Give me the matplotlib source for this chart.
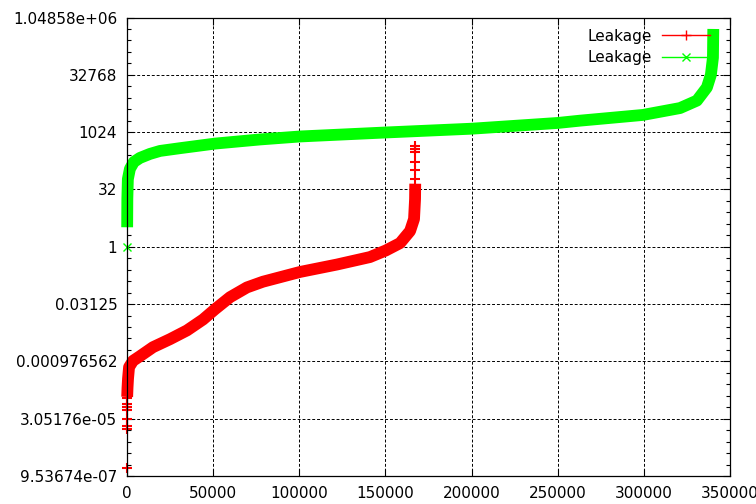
"""
plot.py — Leakage 排序曲线（纵轴 log2 刻度，gnuplot 风格）
"""

import numpy as np
import matplotlib
matplotlib.use("Agg")
import matplotlib.pyplot as plt
from matplotlib.lines import Line2D
from matplotlib.ticker import FixedLocator, FuncFormatter

# ---------------------------------------------------------------------------
# 1. 数据（从原图读取，纵轴以 log2 指数记录）
# ---------------------------------------------------------------------------
red_x = [100, 300, 600, 1200, 3500, 7500, 15100, 25000, 34800, 44100,
         51100, 59800, 69600, 78900, 100400, 121900, 141000, 150300, 158500,
         164300, 166600, 167200, 167300]
red_log2 = [-13.1, -12.3, -11.5, -10.5, -9.95, -9.55, -8.76, -8.06, -7.3, -6.35,
            -5.45, -4.4, -3.55, -3.05, -2.2, -1.55, -0.9, -0.32, 0.32,
            1.37, 2.42, 4.17, 5.5]

# 红色曲线两端零散的点
red_low_x = [0, 1, 2, 3, 4, 5, 6, 7]
red_low_log2 = [-19.3, -15.9, -15.6, -15.0, -14.2, -14.0, -13.7, -13.2]
red_top_x = [167300, 167302, 167304, 167306, 167308, 167310]
red_top_log2 = [5.9, 6.7, 7.4, 8.3, 8.5, 8.8]

green_x = [100, 200, 500, 1700, 4000, 7500, 13300, 19200, 30800, 51100,
           77200, 100400, 150300, 200200, 250000, 262900, 299500, 321000,
           330800, 336600, 338900, 340100, 340300]
green_log2 = [1.7, 4.2, 5.9, 6.8, 7.4, 7.75, 8.1, 8.36, 8.6, 9.0,
              9.36, 9.62, 9.97, 10.3, 10.8, 11.0, 11.5, 12.1,
              12.75, 13.9, 15.0, 16.5, 19.0]
green_low_x = [0]
green_low_log2 = [0.0]

x_ticks = [0, 50000, 100000, 150000, 200000, 250000, 300000, 350000]
y_major_exp = [-20, -15, -10, -5, 0, 5, 10, 15, 20]
legend_labels = ["Leakage", "Leakage"]

RED = "#ff0000"
GREEN = "#00ff00"

# ---------------------------------------------------------------------------
# 2. 绘图
# ---------------------------------------------------------------------------
plt.rcParams["font.family"] = ["DejaVu Sans"]
plt.rcParams["font.size"] = 11

fig = plt.figure(figsize=(7.56, 5.04), dpi=100)
ax = fig.add_axes([127 / 756, 28 / 504, 603 / 756, 458.5 / 504])

# 密集的标记点在原图中连成粗带，这里用粗线表示
ax.plot(red_x, 2.0 ** np.array(red_log2), color=RED, lw=8.5,
        solid_capstyle="butt", solid_joinstyle="round", clip_on=False, zorder=2)
ax.plot(red_low_x, 2.0 ** np.array(red_low_log2), ls="none", marker="+",
        ms=7, mew=1.5, color=RED, clip_on=False, zorder=2)
ax.plot(red_top_x, 2.0 ** np.array(red_top_log2), ls="none", marker="+",
        ms=7, mew=1.5, color=RED, clip_on=False, zorder=2)

ax.plot(green_x, 2.0 ** np.array(green_log2), color=GREEN, lw=8.5,
        solid_capstyle="butt", solid_joinstyle="round", clip_on=False, zorder=2.1)
ax.plot(green_low_x, 2.0 ** np.array(green_low_log2), ls="none", marker="x",
        ms=6, mew=1, color=GREEN, clip_on=False, zorder=2.1)

# 坐标轴
ax.set_yscale("log", base=2)
ax.set_xlim(0, 350000)
ax.set_ylim(2.0 ** -20, 2.0 ** 20)

ax.xaxis.set_major_locator(FixedLocator(x_ticks))
ax.xaxis.set_major_formatter(FuncFormatter(lambda v, p: "%d" % v))
ax.yaxis.set_major_locator(FixedLocator([2.0 ** e for e in y_major_exp]))
ax.yaxis.set_minor_locator(FixedLocator([2.0 ** e for e in range(-20, 21)]))
ax.yaxis.set_major_formatter(FuncFormatter(lambda v, p: "%g" % v))
ax.yaxis.set_minor_formatter(FuncFormatter(lambda v, p: ""))

ax.tick_params(which="both", direction="in", top=True, right=True,
               colors="black", labelsize=11)
ax.tick_params(which="major", length=5, width=0.8)
ax.tick_params(which="minor", length=3, width=0.8)
ax.tick_params(axis="x", pad=7)
ax.tick_params(axis="y", pad=7)

for s in ax.spines.values():
    s.set_color("black")
    s.set_linewidth(0.9)

ax.set_axisbelow(True)
ax.grid(True, which="major", color="black", lw=0.7, ls=(0, (3, 2)))

# 图例（gnuplot 风格：文字在左，样例线在右）
handles = [
    Line2D([], [], color=RED, lw=1, marker="+", ms=7, mew=1),
    Line2D([], [], color=GREEN, lw=1, marker="x", ms=6, mew=1),
]
ax.legend(handles, legend_labels, loc="upper right",
          bbox_to_anchor=(0.967, 0.976), frameon=False, markerfirst=False,
          handlelength=3.15, handletextpad=0.65, labelspacing=0.43,
          borderpad=0, borderaxespad=0, numpoints=1, fontsize=11)

fig.savefig("out.png", dpi=100)
